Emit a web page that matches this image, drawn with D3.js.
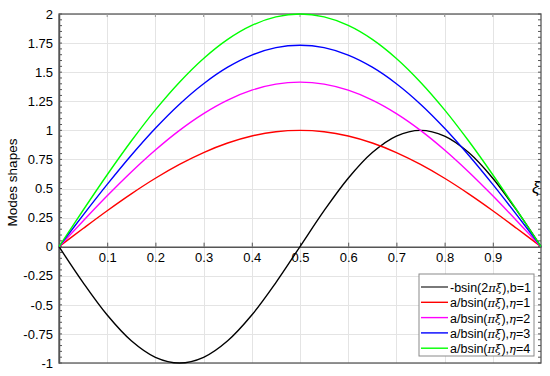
<!DOCTYPE html>
<html>
<head>
<meta charset="utf-8">
<script src="https://cdn.jsdelivr.net/npm/d3@7"></script>
<style>
  body { margin: 0; background: #fff; }
  text { font-family: "Liberation Sans", Arial, sans-serif; }
</style>
</head>
<body>
<div id="chart"></div>
<script>
  // sample positions along xi
  const xi = [0, 0.05, 0.1, 0.15, 0.2, 0.25, 0.3, 0.35, 0.4, 0.45, 0.5,
              0.55, 0.6, 0.65, 0.7, 0.75, 0.8, 0.85, 0.9, 0.95, 1]

  const blackVals = [0, -0.309, -0.588, -0.809, -0.951, -1, -0.951, -0.809, -0.588, -0.309, 0,
                     0.309, 0.588, 0.809, 0.951, 1, 0.951, 0.809, 0.588, 0.309, 0]
  const eta1Vals = [0, 0.156, 0.309, 0.454, 0.588, 0.707, 0.809, 0.891, 0.951, 0.988, 1,
                    0.988, 0.951, 0.891, 0.809, 0.707, 0.588, 0.454, 0.309, 0.156, 0]
  const eta2Vals = [0, 0.221, 0.437, 0.642, 0.831, 1.0, 1.144, 1.26, 1.345, 1.397, 1.414,
                    1.397, 1.345, 1.26, 1.144, 1.0, 0.831, 0.642, 0.437, 0.221, 0]
  const eta3Vals = [0, 0.271, 0.535, 0.786, 1.018, 1.225, 1.401, 1.543, 1.647, 1.711, 1.732,
                    1.711, 1.647, 1.543, 1.401, 1.225, 1.018, 0.786, 0.535, 0.271, 0]
  const eta4Vals = [0, 0.313, 0.618, 0.908, 1.176, 1.414, 1.618, 1.782, 1.902, 1.975, 2,
                    1.975, 1.902, 1.782, 1.618, 1.414, 1.176, 0.908, 0.618, 0.313, 0]

  const seriesNames = ["black", "eta1", "eta2", "eta3", "eta4"]
  const seriesVals = [blackVals, eta1Vals, eta2Vals, eta3Vals, eta4Vals]
  const seriesColors = ["#000000", "#ff0000", "#ff00ff", "#0000ff", "#00ff00"]

  const xTicks = [0.1, 0.2, 0.3, 0.4, 0.5, 0.6, 0.7, 0.8, 0.9]
  const yTicks = [-1, -0.75, -0.5, -0.25, 0, 0.25, 0.5, 0.75, 1, 1.25, 1.5, 1.75, 2]
  const yTickLabels = ["-1", "-0.75", "-0.5", "-0.25", "0", "0.25", "0.5", "0.75", "1", "1.25", "1.5", "1.75", "2"]

  const width = 550, height = 376
  const margin = {top: 14, right: 9, bottom: 13, left: 59}

  const svg = d3.select("#chart").append("svg")
    .attr("width", width)
    .attr("height", height)

  const x = d3.scaleLinear().domain([0, 1]).range([margin.left, width - margin.right])
  const y = d3.scaleLinear().domain([-1, 2]).range([height - margin.bottom, margin.top])

  // grid
  const grid = svg.append("g").attr("stroke", "#e4e4e4").attr("stroke-width", 1)
  grid.selectAll("line.gx")
    .data(xTicks)
    .join("line")
      .attr("class", "gx")
      .attr("x1", d => Math.round(x(d)) + 0.5).attr("x2", d => Math.round(x(d)) + 0.5)
      .attr("y1", y(2)).attr("y2", y(-1))
  grid.selectAll("line.gy")
    .data(yTicks)
    .join("line")
      .attr("class", "gy")
      .attr("x1", x(0)).attr("x2", x(1))
      .attr("y1", d => Math.round(y(d)) + 0.5).attr("y2", d => Math.round(y(d)) + 0.5)

  // frame
  svg.append("rect")
    .attr("x", x(0)).attr("y", y(2))
    .attr("width", x(1) - x(0)).attr("height", y(-1) - y(2))
    .attr("fill", "none")
    .attr("stroke", "#5a5a5a")
    .attr("stroke-width", 1.3)

  // minor ticks on left and right axes
  const minor = d3.range(-1, 2.001, 0.05)
  svg.append("g").attr("stroke", "#555")
    .selectAll("line")
    .data(minor)
    .join("line")
      .attr("x1", x(0)).attr("x2", x(0) + 3)
      .attr("y1", d => y(d)).attr("y2", d => y(d))
  svg.append("g").attr("stroke", "#555")
    .selectAll("line")
    .data(minor)
    .join("line")
      .attr("x1", x(1)).attr("x2", x(1) - 3)
      .attr("y1", d => y(d)).attr("y2", d => y(d))
  // small ticks along the top
  svg.append("g").attr("stroke", "#999")
    .selectAll("line")
    .data(xTicks)
    .join("line")
      .attr("x1", d => x(d)).attr("x2", d => x(d))
      .attr("y1", y(2)).attr("y2", y(2) + 3)

  // left axis
  const yAxis = svg.append("g")
    .attr("transform", `translate(${x(0)},0)`)
    .call(d3.axisLeft(y).tickValues(yTicks).tickFormat((d, i) => yTickLabels[i]).tickSize(0).tickPadding(6))
  yAxis.select(".domain").attr("stroke", "#555").attr("stroke-width", 1.5)
  yAxis.selectAll("text").attr("font-size", 13).attr("fill", "#000")
    .attr("font-family", "Liberation Sans, Arial, sans-serif")

  // x axis through zero
  const xAxis = svg.append("g")
    .attr("transform", `translate(0,${y(0)})`)
    .call(d3.axisBottom(x).tickValues(xTicks).tickSize(0).tickPadding(6).tickFormat(d3.format(".1f")))
  xAxis.select(".domain").attr("stroke", "#555").attr("stroke-width", 1.5)
  xAxis.selectAll("text").attr("font-size", 13).attr("fill", "#000")
    .attr("font-family", "Liberation Sans, Arial, sans-serif")
  xAxis.selectAll(".tick").append("line")
    .attr("stroke", "#555").attr("y1", 0).attr("y2", -4)

  // curves
  const line = d3.line()
    .x((d, i) => x(xi[i]))
    .y(d => y(d))
    .curve(d3.curveCatmullRom)

  svg.append("g")
    .selectAll("path")
    .data(seriesVals)
    .join("path")
      .attr("fill", "none")
      .attr("stroke", (d, i) => seriesColors[i])
      .attr("stroke-width", 1.4)
      .attr("d", line)

  // y label
  svg.append("text")
    .attr("transform", `translate(17,${(y(2) + y(-1)) / 2 - 6}) rotate(-90)`)
    .attr("text-anchor", "middle")
    .attr("font-size", 13.5)
    .text("Modes shapes")

  // xi label
  svg.append("text")
    .attr("x", 532).attr("y", 193)
    .attr("font-size", 17)
    .attr("font-family", "DejaVu Serif, serif")
    .attr("font-style", "italic")
    .text("ξ")

  // legend
  const legend = svg.append("g").attr("transform", "translate(419,274)")
  legend.append("rect")
    .attr("width", 115).attr("height", 82)
    .attr("fill", "#fff")
    .attr("stroke", "#8a8a8a")
  const legendLabels = [
    [["-bsin(2", false], ["π", true], ["ξ", true], ["),b=1", false]],
    [["a/bsin(", false], ["π", true], ["ξ", true], ["),", false], ["η", true], ["=1", false]],
    [["a/bsin(", false], ["π", true], ["ξ", true], ["),", false], ["η", true], ["=2", false]],
    [["a/bsin(", false], ["π", true], ["ξ", true], ["),", false], ["η", true], ["=3", false]],
    [["a/bsin(", false], ["π", true], ["ξ", true], ["),", false], ["η", true], ["=4", false]]
  ]
  const rows = legend.selectAll("g.row")
    .data(seriesNames)
    .join("g")
      .attr("class", "row")
      .attr("transform", (d, i) => `translate(0,${13 + i * 15.3})`)
  rows.append("line")
    .attr("x1", 2).attr("x2", 29)
    .attr("stroke", (d, i) => i === 0 ? "#404040" : seriesColors[i])
    .attr("stroke-width", 1.4)
  rows.append("text")
    .attr("x", 31).attr("y", 5)
    .attr("font-size", 12.5)
    .each(function(d, i) {
      const t = d3.select(this)
      legendLabels[i].forEach(p => {
        t.append("tspan")
          .attr("font-style", p[1] ? "italic" : null)
          .attr("font-family", p[1] ? "DejaVu Serif, serif" : null)
          .attr("font-size", p[1] ? 11.5 : null)
          .text(p[0])
      })
    })
</script>
</body>
</html>
